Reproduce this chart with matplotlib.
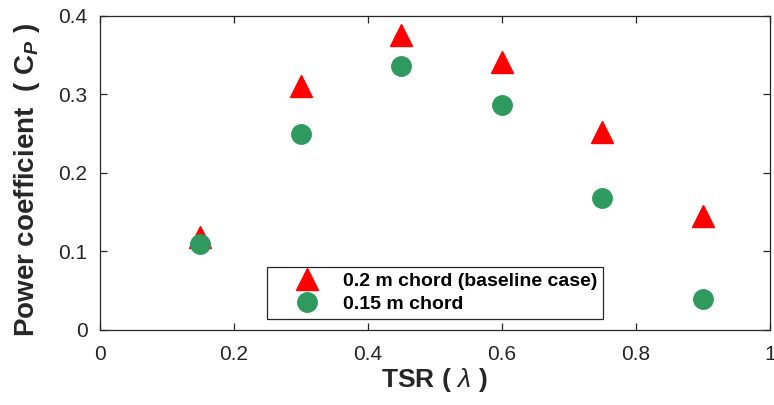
import matplotlib
matplotlib.use("Agg")
import matplotlib.pyplot as plt

# TSR values and measured power coefficients
TSR = [0.15, 0.30, 0.45, 0.60, 0.75, 0.90]
CP_BASELINE = [0.118, 0.311, 0.376, 0.341, 0.252, 0.145]
CP_SMALL = [0.110, 0.250, 0.336, 0.287, 0.168, 0.039]

SERIES_LABELS = ["0.2 m chord (baseline case)", "0.15 m chord"]
XTICKS = [0, 0.2, 0.4, 0.6, 0.8, 1]
YTICKS = [0, 0.1, 0.2, 0.3, 0.4]

plt.rcParams["font.family"] = ["Liberation Sans", "DejaVu Sans"]
plt.rcParams["mathtext.fontset"] = "custom"
plt.rcParams["mathtext.rm"] = "Liberation Sans:bold"
plt.rcParams["mathtext.it"] = "Liberation Sans:bold:italic"
plt.rcParams["mathtext.bf"] = "Liberation Sans:bold"
plt.rcParams["mathtext.sf"] = "Liberation Sans:italic"

DARK = "#262626"

fig = plt.figure(figsize=(7.74, 4.05), dpi=100)
ax = fig.add_axes([0.1292, 0.1852, 0.8656, 0.7753])

ax.plot(TSR, CP_BASELINE, linestyle="none", marker="^", markersize=16,
        color="#FF0000", label=SERIES_LABELS[0], zorder=3)
ax.plot(TSR, CP_SMALL, linestyle="none", marker="o", markersize=14,
        color="#2F9A5E", label=SERIES_LABELS[1], zorder=4)

ax.set_xlim(0, 1)
ax.set_ylim(0, 0.4)
ax.set_xticks(XTICKS)
ax.set_xticklabels(["0", "0.2", "0.4", "0.6", "0.8", "1"])
ax.set_yticks(YTICKS)
ax.set_yticklabels(["0", "0.1", "0.2", "0.3", "0.4"])
ax.tick_params(direction="in", length=5, width=0.9, colors=DARK,
               labelsize=15, top=True, right=True, labeltop=False, labelright=False)
ax.tick_params(axis="x", pad=11)
ax.tick_params(axis="y", pad=9)
for s in ax.spines.values():
    s.set_color(DARK)
    s.set_linewidth(0.9)

ax.set_xlabel(r"TSR $\it(\ \mathsf{\lambda}\ \it)$", fontsize=19, fontweight="bold",
              color=DARK, labelpad=1)
ax.set_ylabel(r"Power coefficient  $\it(\ \rm C_{\it P}\ \it)$", fontsize=20,
              fontweight="bold", color=DARK)
ax.yaxis.set_label_coords(-0.087, 0.48)

leg = ax.legend(loc="lower left", bbox_to_anchor=(0.249, 0.035), borderaxespad=0,
                frameon=True, fancybox=False, edgecolor=DARK, framealpha=1,
                prop={"weight": "bold", "size": 14}, handletextpad=0.1,
                borderpad=0.3, labelspacing=0.28, handlelength=3.5)
leg.get_frame().set_linewidth(0.9)

fig.savefig("out.png", dpi=100)
